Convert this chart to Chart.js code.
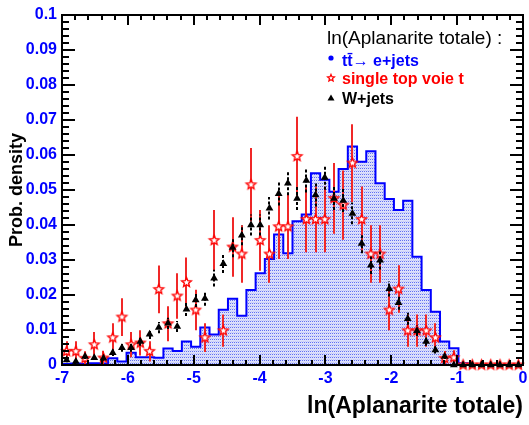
<!DOCTYPE html>
<html>
<head>
<meta charset="utf-8">
<script src="https://cdn.jsdelivr.net/npm/chart.js@4.4.0/dist/chart.umd.min.js"></script>
<style>
  html, body { margin: 0; padding: 0; background: #fff; }
  canvas { display: block; }
</style>
</head>
<body>
<canvas id="chart" width="529" height="425"></canvas>
<script>
const FONT = "'Liberation Sans', Arial, Helvetica, sans-serif"

// 50 bins from -7 to 0
const binLow = -7
const binWidth = 0.14

const ttbar = [
  0.0003, 0.0004, 0.0003, 0.0005, 0.0004, 0.0019, 0.0010, 0.0035, 0.0022, 0.0022,
  0.0021, 0.0047, 0.0040, 0.0067, 0.0052, 0.0107, 0.0087, 0.0158, 0.0189, 0.0141,
  0.0214, 0.0262, 0.0303, 0.0373, 0.0319, 0.0411, 0.0430, 0.0548, 0.0529, 0.0495,
  0.0560, 0.0624, 0.0581, 0.0611, 0.0519, 0.0474, 0.0443, 0.0469, 0.0309, 0.0214,
  0.0152, 0.0067, 0.0048, 0.0005, 0, 0, 0, 0, 0, 0,
]

const singleTop = [
  0.0039, 0.0039, 0.0019, 0.0058, 0.0020, 0.0078, 0.0137, 0.0058, 0.0063, 0.0039,
  0.0216, 0.0118, 0.0197, 0.0236, 0.0157, 0.0078, 0.0356, 0.0098, 0.0337, 0.0317,
  0.0515, 0.0356, 0.0317, 0.0395, 0.0395, 0.0596, 0.0416, 0.0416, 0.0416, 0.0476,
  0.0457, 0.0577, 0.0416, 0.0317, 0.0317, 0.0157, 0.0217, 0.0098, 0.0098, 0.0098,
  0.0078, 0.0019, 0.0021, 0, 0, 0, 0, 0, 0, 0,
]
const singleTopErr = [
  0.0029, 0.0029, 0.0020, 0.0036, 0.0021, 0.0041, 0.0054, 0.0036, 0.0036, 0.0029,
  0.0068, 0.0050, 0.0065, 0.0071, 0.0058, 0.0041, 0.0087, 0.0046, 0.0085, 0.0082,
  0.0105, 0.0087, 0.0082, 0.0092, 0.0092, 0.0113, 0.0094, 0.0094, 0.0094, 0.0101,
  0.0099, 0.0111, 0.0094, 0.0082, 0.0082, 0.0058, 0.0068, 0.0046, 0.0046, 0.0046,
  0.0041, 0.0021, 0.0021, 0, 0, 0, 0, 0, 0, 0,
]

const wjets = [
  0.0014, 0.0010, 0.0024, 0.0021, 0.0019, 0.0035, 0.0049, 0.0049, 0.0067, 0.0088,
  0.0107, 0.0119, 0.0110, 0.0159, 0.0186, 0.0190, 0.0248, 0.0289, 0.0336, 0.0371,
  0.0400, 0.0400, 0.0448, 0.0489, 0.0519, 0.0476, 0.0527, 0.0486, 0.0536, 0.0476,
  0.0470, 0.0433, 0.0347, 0.0285, 0.0299, 0.0218, 0.0178, 0.0132, 0.0098, 0.0067,
  0.0043, 0.0024, 0, 0, 0, 0, 0, 0, 0, 0,
]
const wjetsErr = [
  0.0006, 0.0005, 0.0007, 0.0007, 0.0007, 0.0009, 0.0011, 0.0011, 0.0012, 0.0014,
  0.0016, 0.0016, 0.0016, 0.0019, 0.0020, 0.0021, 0.0024, 0.0026, 0.0028, 0.0029,
  0.0030, 0.0030, 0.0032, 0.0033, 0.0034, 0.0033, 0.0034, 0.0033, 0.0035, 0.0033,
  0.0033, 0.0031, 0.0028, 0.0025, 0.0026, 0.0022, 0.0020, 0.0017, 0.0015, 0.0012,
  0.0010, 0.0007, 0, 0, 0, 0, 0, 0, 0, 0,
]

const legendTitle = "ln(Aplanarite totale) :"
const legendEntries = [
  { text: "tt\u0304\u2192 e+jets", color: "#0000ff", marker: "dot" },
  { text: "single top voie t", color: "#ff0000", marker: "star" },
  { text: "W+jets", color: "#000000", marker: "triangle" },
]

const binCenter = (i) => binLow + (i + 0.5) * binWidth

// open star marker, white inside like ROOT's
const makeStar = (r, lw) => {
  const c = document.createElement("canvas")
  const s = Math.ceil(2 * r + 2 * lw + 2)
  c.width = s
  c.height = s
  const g = c.getContext("2d")
  g.translate(s / 2, s / 2)
  g.beginPath()
  for (let k = 0; k < 10; k++) {
    const rr = k % 2 ? r * 0.45 : r
    const ang = -Math.PI / 2 + (k * Math.PI) / 5
    g.lineTo(rr * Math.cos(ang), rr * Math.sin(ang))
  }
  g.closePath()
  g.fillStyle = "#fff"
  g.fill()
  g.strokeStyle = "#ff0000"
  g.lineWidth = lw
  g.stroke()
  return c
}

// dotted fill of the ttbar histogram
const makeDots = () => {
  const c = document.createElement("canvas")
  c.width = 2
  c.height = 3
  const g = c.getContext("2d")
  g.fillStyle = "#dde0fb"
  g.fillRect(0, 0, 2, 3)
  g.fillStyle = "#6070f2"
  g.fillRect(0, 0, 1, 1)
  g.fillStyle = "#c4c9f6"
  g.fillRect(1, 2, 1, 1)
  return g.createPattern(c, "repeat")
}

const starImg = makeStar(5, 1.4)
const starSmall = makeStar(3.6, 1.2)

const histPoints = ttbar.map((v, i) => ({ x: binLow + i * binWidth, y: v }))
histPoints.push({ x: binLow + ttbar.length * binWidth, y: ttbar[ttbar.length - 1] })

const errorBars = {
  id: "errorBars",
  beforeDatasetDraw(chart, args) {
    const ds = chart.data.datasets[args.index]
    if (!ds.errors) return
    const { ctx, chartArea: a, scales: { x, y } } = chart
    ctx.save()
    ctx.beginPath()
    ctx.rect(a.left, a.top, a.right - a.left, a.bottom - a.top)
    ctx.clip()
    ctx.strokeStyle = ds.errorColor
    ctx.lineWidth = 2
    ctx.setLineDash(ds.errorDash || [])
    ds.data.forEach((p, i) => {
      const e = ds.errors[i]
      if (!e) return
      const px = Math.round(x.getPixelForValue(p.x))
      ctx.beginPath()
      ctx.moveTo(px, y.getPixelForValue(p.y - e))
      ctx.lineTo(px, y.getPixelForValue(p.y + e))
      ctx.stroke()
    })
    ctx.restore()
  },
}

// ROOT style frame with inward ticks on all four sides
const rootFrame = {
  id: "rootFrame",
  afterDatasetsDraw(chart) {
    const { ctx, chartArea: a, scales: { x, y } } = chart
    const seg = (x0, y0, x1, y1) => {
      ctx.beginPath()
      ctx.moveTo(x0, y0)
      ctx.lineTo(x1, y1)
      ctx.stroke()
    }
    ctx.save()
    ctx.strokeStyle = "#000"
    ctx.lineWidth = 2
    for (let i = 0; i <= 35; i++) {
      const px = Math.round(x.getPixelForValue(-7 + i * 0.2))
      const len = i % 5 === 0 ? 10 : 5
      seg(px, a.bottom, px, a.bottom - len)
      seg(px, a.top, px, a.top + len)
    }
    for (let i = 0; i <= 50; i++) {
      const py = Math.round(y.getPixelForValue(i * 0.002))
      const len = i % 5 === 0 ? 13 : 7
      seg(a.left, py, a.left + len, py)
      seg(a.right, py, a.right - len, py)
    }
    ctx.strokeRect(a.left, a.top, a.right - a.left, a.bottom - a.top)
    ctx.restore()
  },
}

const rootLegend = {
  id: "rootLegend",
  afterDraw(chart) {
    const { ctx } = chart
    ctx.save()
    ctx.textBaseline = "alphabetic"
    ctx.textAlign = "left"
    ctx.fillStyle = "#000"
    ctx.font = `19px ${FONT}`
    ctx.fillText(legendTitle, 327, 44)
    const rows = [66, 84, 104]
    legendEntries.forEach((e, i) => {
      const yb = rows[i]
      ctx.font = `bold 16px ${FONT}`
      ctx.fillStyle = e.color
      ctx.fillText(e.text, 342, yb)
      const my = yb - 6
      if (e.marker === "dot") {
        ctx.beginPath()
        ctx.arc(331, my - 2, 2.6, 0, Math.PI * 2)
        ctx.fill()
      } else if (e.marker === "star") {
        ctx.drawImage(starSmall, 331 - starSmall.width / 2, my - starSmall.height / 2)
      } else {
        ctx.beginPath()
        ctx.moveTo(331, my - 3.5)
        ctx.lineTo(334.5, my + 2.5)
        ctx.lineTo(327.5, my + 2.5)
        ctx.closePath()
        ctx.fill()
      }
    })
    ctx.restore()
  },
}

new Chart(document.getElementById("chart"), {
  type: "scatter",
  data: {
    datasets: [
      {
        type: "line",
        label: "ttbar",
        data: histPoints,
        stepped: "before",
        borderColor: "#0000ff",
        borderWidth: 2,
        backgroundColor: makeDots(),
        fill: "origin",
        pointRadius: 0,
        order: 3,
      },
      {
        label: "single top",
        data: singleTop.map((v, i) => ({ x: binCenter(i), y: v })),
        errors: singleTopErr,
        errorColor: "#f02828",
        pointStyle: starImg,
        pointRadius: 5,
        clip: false,
        order: 2,
      },
      {
        label: "W+jets",
        data: wjets.map((v, i) => ({ x: binCenter(i), y: v })),
        errors: wjetsErr,
        errorColor: "#000",
        errorDash: [3, 2],
        pointStyle: "triangle",
        pointRadius: 4.5,
        backgroundColor: "#000",
        borderColor: "#000",
        borderWidth: 0,
        clip: false,
        order: 1,
      },
    ],
  },
  options: {
    responsive: false,
    animation: false,
    devicePixelRatio: 1,
    layout: { padding: { top: 15, right: 2, left: 0, bottom: 0 } },
    plugins: { legend: { display: false }, tooltip: { enabled: false } },
    scales: {
      x: {
        type: "linear",
        min: -7,
        max: 0,
        grid: { display: false, drawTicks: false },
        border: { display: false },
        ticks: {
          stepSize: 1,
          color: "#0000ff",
          padding: 4,
          maxRotation: 0,
          autoSkip: false,
          font: { family: FONT, size: 16, weight: "bold" },
          callback: (v) => String(v),
        },
        title: {
          display: true,
          text: "ln(Aplanarite totale)",
          align: "end",
          color: "#000",
          font: { family: FONT, size: 23, weight: "bold" },
          padding: { top: 0, bottom: 5 },
        },
        afterFit: (s) => {
          s.height = 60
          s.paddingLeft = 0
          s.paddingRight = 0
        },
      },
      y: {
        min: 0,
        max: 0.1,
        grid: { display: false, drawTicks: false },
        border: { display: false },
        ticks: {
          stepSize: 0.01,
          color: "#0000ff",
          padding: 5,
          autoSkip: false,
          font: { family: FONT, size: 16, weight: "bold" },
          callback: (v) => String(+v.toFixed(2)),
        },
        title: {
          display: true,
          text: "Prob. density",
          color: "#000",
          font: { family: FONT, size: 18, weight: "bold" },
          padding: { top: 6, bottom: 0 },
        },
        afterFit: (s) => {
          s.width = 62
          s.paddingTop = 0
          s.paddingBottom = 0
        },
      },
    },
  },
  plugins: [errorBars, rootFrame, rootLegend],
})
</script>
</body>
</html>
